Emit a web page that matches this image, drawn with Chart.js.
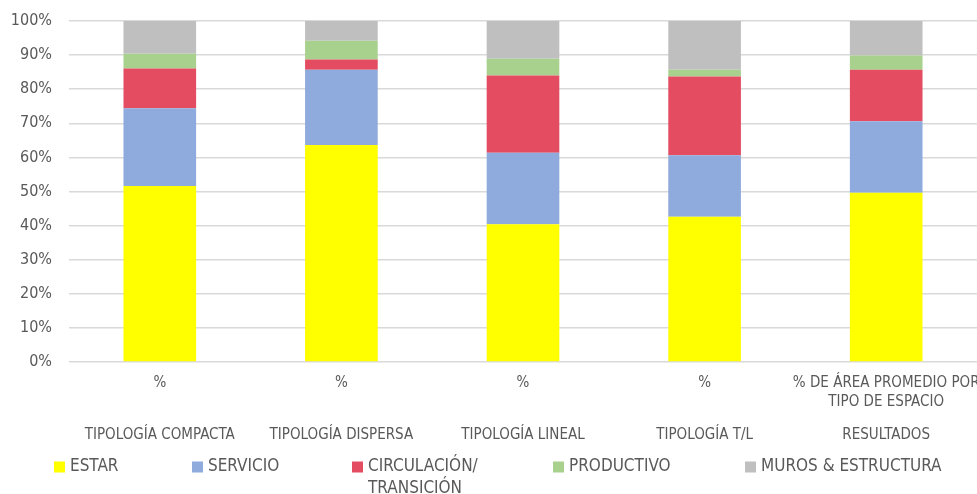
<!DOCTYPE html>
<html lang="es">
<head>
<meta charset="utf-8">
<title>Distribución de áreas por tipología</title>
<script src="https://cdn.jsdelivr.net/npm/chart.js@4.4.1/dist/chart.umd.min.js"></script>
<style>
  html, body { margin: 0; padding: 0; background: #ffffff; }
  canvas { display: block; }
</style>
</head>
<body>
<canvas id="chart" width="977" height="494"></canvas>
<script>
// Categories: inner label (per bar) and outer group label
const barLabels = [
  ['%'],
  ['%'],
  ['%'],
  ['%'],
  ['% DE ÁREA PROMEDIO POR', 'TIPO DE ESPACIO']
];
const groupLabels = [
  'TIPOLOGÍA COMPACTA',
  'TIPOLOGÍA DISPERSA',
  'TIPOLOGÍA LINEAL',
  'TIPOLOGÍA T/L',
  'RESULTADOS'
];

// Share of area (%) per space type
const estar      = [51.6, 63.6, 40.4, 42.6, 49.6];
const servicio   = [22.8, 22.1, 21.0, 18.0, 21.0];
const circulacion= [11.7,  3.0, 22.6, 23.1, 15.1];
const productivo = [ 4.3,  5.5,  4.9,  2.0,  4.2];
const muros      = [ 9.6,  5.8, 11.1, 14.3, 10.1];

const seriesNames = [
  ['ESTAR'],
  ['SERVICIO'],
  ['CIRCULACIÓN/', 'TRANSICIÓN'],
  ['PRODUCTIVO'],
  ['MUROS & ESTRUCTURA']
];

// Y axis ticks
const yTicks = [0, 10, 20, 30, 40, 50, 60, 70, 80, 90, 100];

const colors = ['#FFFF00', '#8FAADC', '#E44C62', '#A9D18E', '#BFBFBF'];
const textColor = '#595959';
const fontFamily = "'Liberation Sans Narrow', 'DejaVu Sans Condensed', 'Liberation Sans', sans-serif";

const values = [estar, servicio, circulacion, productivo, muros];

const datasets = values.map((data, i) => ({
  label: seriesNames[i].join(' '),
  data: data,
  backgroundColor: colors[i],
  borderWidth: 0,
  xAxisID: 'x',
  yAxisID: 'y',
  barPercentage: 0.4,
  categoryPercentage: 1.0,
  stack: 'total'
}));

// Legend drawn below the axes, with a two-line entry
const bottomLegend = {
  id: 'bottomLegend',
  afterDraw(chart, args, opts) {
    const ctx = chart.ctx;
    ctx.save();
    ctx.font = opts.fontSize + 'px ' + fontFamily;
    ctx.textBaseline = 'middle';
    ctx.textAlign = 'left';
    chart.data.datasets.forEach((ds, i) => {
      const x = opts.positions[i];
      const y = opts.y;
      ctx.fillStyle = ds.backgroundColor;
      ctx.fillRect(x, y - opts.box / 2, opts.box, opts.box);
      ctx.fillStyle = textColor;
      seriesNames[i].forEach((line, k) => {
        ctx.fillText(line, x + opts.box + 5, y + k * opts.lineHeight);
      });
    });
    ctx.restore();
  }
};

new Chart(document.getElementById('chart'), {
  type: 'bar',
  data: {
    labels: barLabels,
    datasets: datasets
  },
  plugins: [bottomLegend],
  options: {
    responsive: false,
    animation: false,
    layout: {
      padding: { top: 21, right: 0, left: 0, bottom: 37 }
    },
    plugins: {
      legend: { display: false },
      tooltip: { enabled: false },
      bottomLegend: {
        positions: [54, 192, 352, 553, 745],
        y: 467,
        box: 11,
        fontSize: 17,
        lineHeight: 22
      }
    },
    scales: {
      y: {
        stacked: true,
        min: 0,
        max: 100,
        afterBuildTicks: s => { s.ticks = yTicks.map(v => ({ value: v })); },
        ticks: {
          callback: v => v + '%',
          color: textColor,
          padding: 17,
          font: { family: fontFamily, size: 16 }
        },
        grid: {
          color: '#D9D9D9',
          lineWidth: 1.5,
          drawTicks: false
        },
        border: { display: false },
        afterFit: s => { s.width = 69; s.paddingTop = 0; s.paddingBottom = 0; }
      },
      x: {
        stacked: true,
        weight: 0,
        ticks: {
          color: textColor,
          padding: 12,
          maxRotation: 0,
          autoSkip: false,
          font: { family: fontFamily, size: 15, lineHeight: 1.27 }
        },
        grid: { display: false, drawTicks: false },
        border: { display: false },
        afterFit: s => { s.height = 55; s.paddingLeft = 0; s.paddingRight = 0; }
      },
      x2: {
        type: 'category',
        position: 'bottom',
        weight: 1,
        labels: groupLabels,
        offset: true,
        ticks: {
          color: textColor,
          padding: 9,
          maxRotation: 0,
          autoSkip: false,
          font: { family: fontFamily, size: 15, lineHeight: 1.27 }
        },
        grid: { display: false, drawTicks: false },
        border: { display: false },
        afterFit: s => { s.height = 40; s.paddingLeft = 0; s.paddingRight = 0; }
      }
    }
  }
});
</script>
</body>
</html>
